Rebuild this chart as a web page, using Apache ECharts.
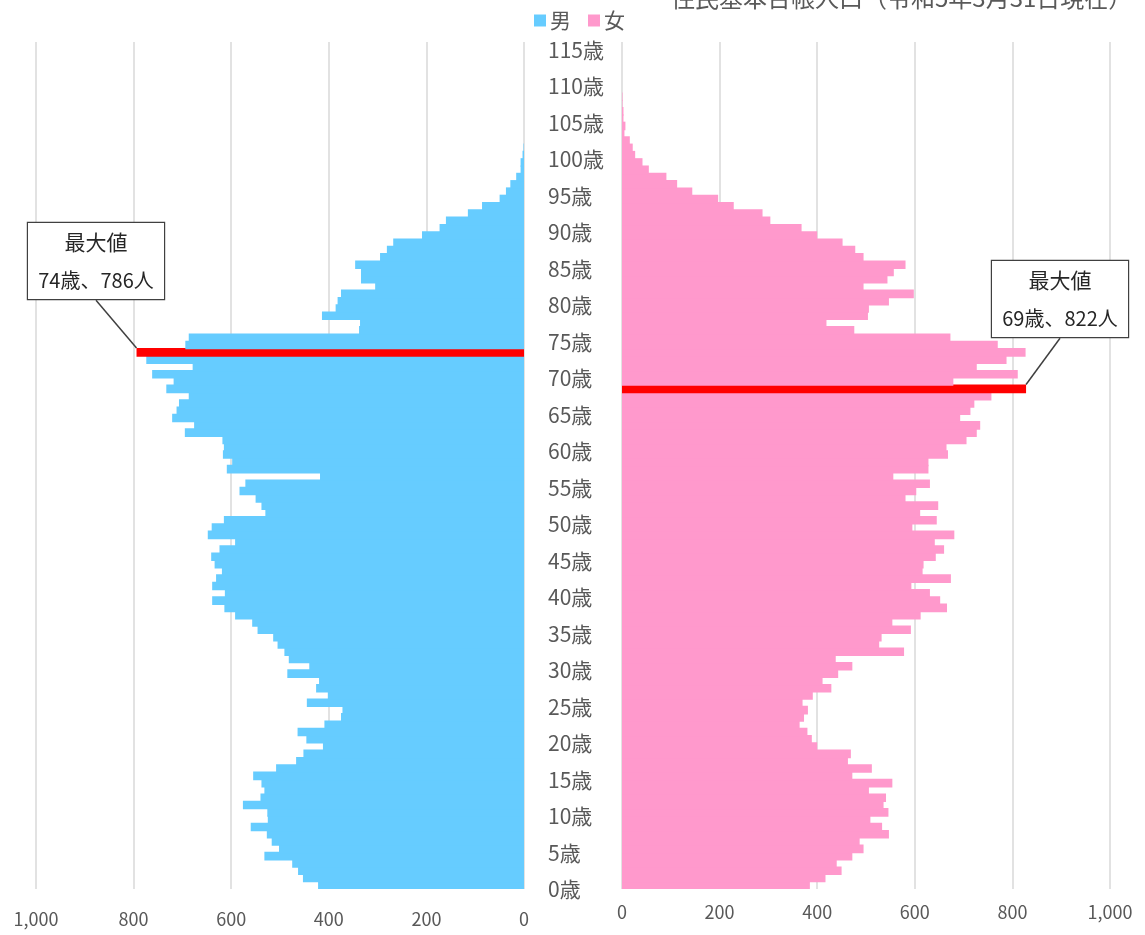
<!DOCTYPE html>
<html lang="ja">
<head>
<meta charset="UTF-8">
<title>人口ピラミッド</title>
<script src="https://cdn.jsdelivr.net/npm/echarts@6/dist/echarts.min.js"></script>
<style>
    html, body { margin: 0; padding: 0; background: #fff; }
    #chart { width: 1145px; height: 935px; }
</style>
</head>
<body>
<div id="chart"></div>
<script>
    // 年齢区分 0歳〜115歳
    var ages = []
    for (var i = 0; i <= 115; i++) ages.push(i + '歳')

    // 男（0歳から順に）
    var male = [
        422, 453, 463, 475, 532, 502, 517, 527, 560, 525,
        526, 576, 540, 532, 538, 555, 508, 467, 452, 412,
        446, 464, 409, 375, 372, 445, 402, 426, 420, 485,
        440, 482, 491, 505, 514, 546, 557, 592, 614, 639,
        613, 639, 631, 619, 634, 641, 624, 592, 648, 640,
        615, 530, 538, 550, 583, 571, 418, 609, 598, 617,
        615, 618, 695, 676, 721, 712, 707, 687, 733, 718,
        762, 679, 774, 794, 694, 687, 338, 336, 414, 386,
        382, 375, 305, 334, 334, 346, 295, 281, 268, 209,
        173, 160, 115, 86, 50, 37, 28, 16, 7, 7,
        3, 1, 0, 0, 0, 0, 0, 0, 0, 0,
        0, 0, 0, 0, 0, 0
    ]

    // 女（0歳から順に）
    var female = [
        385, 417, 450, 440, 472, 495, 487, 547, 533, 509,
        546, 536, 541, 506, 554, 472, 512, 463, 469, 400,
        389, 380, 364, 373, 381, 370, 391, 429, 411, 443,
        472, 438, 578, 527, 532, 592, 554, 612, 666, 652,
        631, 593, 674, 616, 618, 643, 660, 641, 681, 595,
        645, 611, 648, 581, 603, 631, 556, 628, 628, 668,
        665, 706, 727, 734, 693, 714, 722, 757, 828, 679,
        811, 727, 788, 827, 770, 673, 476, 419, 504, 506,
        547, 598, 495, 544, 557, 581, 495, 478, 452, 400,
        368, 304, 288, 229, 197, 144, 113, 91, 55, 42,
        27, 22, 16, 5, 7, 3, 3, 1, 1, 0,
        0, 0, 0, 0, 0, 0
    ]

    var xTicks = [0, 200, 400, 600, 800, 1000]

    // 最大値（赤で表示する位置と注記）
    var maleMaxIndex = 73
    var femaleMaxIndex = 68
    var maleMaxText = ['最大値', '74歳、786人']
    var femaleMaxText = ['最大値', '69歳、822人']

    var gray = '#595959'
    var font = "'Noto Sans CJK JP', 'Noto Sans', sans-serif"

    // 最大値の棒だけ赤にしてラベルを出す
    function withMax (list, maxIndex, color) {
        return list.map(function (v, idx) {
            if (idx !== maxIndex) return v
            return {value: v, itemStyle: {color: color}, label: {show: true}}
        })
    }

    function maxLabel (text) {
        return {
            show: false,
            formatter: '{t|' + text[0] + '}\n{v|' + text[1] + '}',
            backgroundColor: '#fff',
            borderColor: '#404040',
            borderWidth: 1.2,
            padding: [0, 0],
            width: 136,
            align: 'center',
            rich: {
                t: {fontSize: 21, lineHeight: 38, color: '#262626', align: 'center', fontFamily: font},
                v: {fontSize: 20, lineHeight: 38, color: '#262626', align: 'center', fontFamily: font}
            }
        }
    }

    function fmt (v) {
        return xTicks.indexOf(v) < 0 ? '' : String(v).replace(/\B(?=(\d{3})+(?!\d))/g, ',')
    }

    var chart = echarts.init(document.getElementById('chart'))
    var option = {
        animation: false,
        textStyle: {fontFamily: font},
        title: {
            text: '住民基本台帳人口（令和5年3月31日現在）',
            left: 666,
            top: -19,
            textStyle: {fontSize: 24, fontWeight: 'normal', color: gray, fontFamily: font}
        },
        legend: {
            data: ['男', '女'],
            left: 529,
            top: 5,
            icon: 'rect',
            itemWidth: 12,
            itemHeight: 12,
            itemGap: 17,
            textStyle: {fontSize: 21, color: gray, padding: [0, 0, 0, -1]}
        },
        grid: [
            {left: 36, width: 488, top: 42, height: 847},
            {left: 622, width: 488, top: 42, height: 847}
        ],
        xAxis: [{
            gridIndex: 0,
            type: 'value',
            inverse: true,
            min: 0,
            max: 1000,
            interval: 200,
            axisLine: {show: false},
            axisTick: {show: false},
            splitLine: {lineStyle: {color: '#d9d9d9', width: 1.5}},
            axisLabel: {fontSize: 18, color: gray, margin: 21, formatter: fmt}
        }, {
            gridIndex: 1,
            type: 'value',
            min: 0,
            max: 1000,
            interval: 200,
            axisLine: {show: false},
            axisTick: {show: false},
            splitLine: {lineStyle: {color: '#d9d9d9', width: 1.5}},
            axisLabel: {fontSize: 18, color: gray, margin: 14, formatter: fmt}
        }],
        yAxis: [{
            gridIndex: 0,
            type: 'category',
            data: ages,
            axisLine: {show: false},
            axisTick: {show: false},
            axisLabel: {show: false}
        }, {
            gridIndex: 1,
            type: 'category',
            data: ages,
            axisLine: {show: false},
            axisTick: {show: false},
            axisLabel: {
                interval: 4,
                align: 'left',
                margin: 74,
                formatter: function (v) { return '{a|' + v + '}' },
                rich: {
                    a: {fontSize: 21, color: gray, padding: [8, 0, 0, 0], fontFamily: font}
                }
            }
        }],
        series: [{
            name: '男',
            type: 'bar',
            xAxisIndex: 0,
            yAxisIndex: 0,
            barWidth: '118%',
            itemStyle: {color: '#66CCFF'},
            data: withMax(male, maleMaxIndex, '#FF0000'),
            label: maxLabel(maleMaxText),
            labelLayout: {x: 96, y: 261, align: 'center', verticalAlign: 'middle'},
            labelLine: {show: true, lineStyle: {color: '#404040', width: 1.5}}
        }, {
            name: '女',
            type: 'bar',
            xAxisIndex: 1,
            yAxisIndex: 1,
            barWidth: '118%',
            itemStyle: {color: '#FF99CC'},
            data: withMax(female, femaleMaxIndex, '#FF0000'),
            label: maxLabel(femaleMaxText),
            labelLayout: {x: 1060, y: 299, align: 'center', verticalAlign: 'middle'},
            labelLine: {show: true, lineStyle: {color: '#404040', width: 1.5}}
        }]
    }
    chart.setOption(option)
</script>
</body>
</html>
